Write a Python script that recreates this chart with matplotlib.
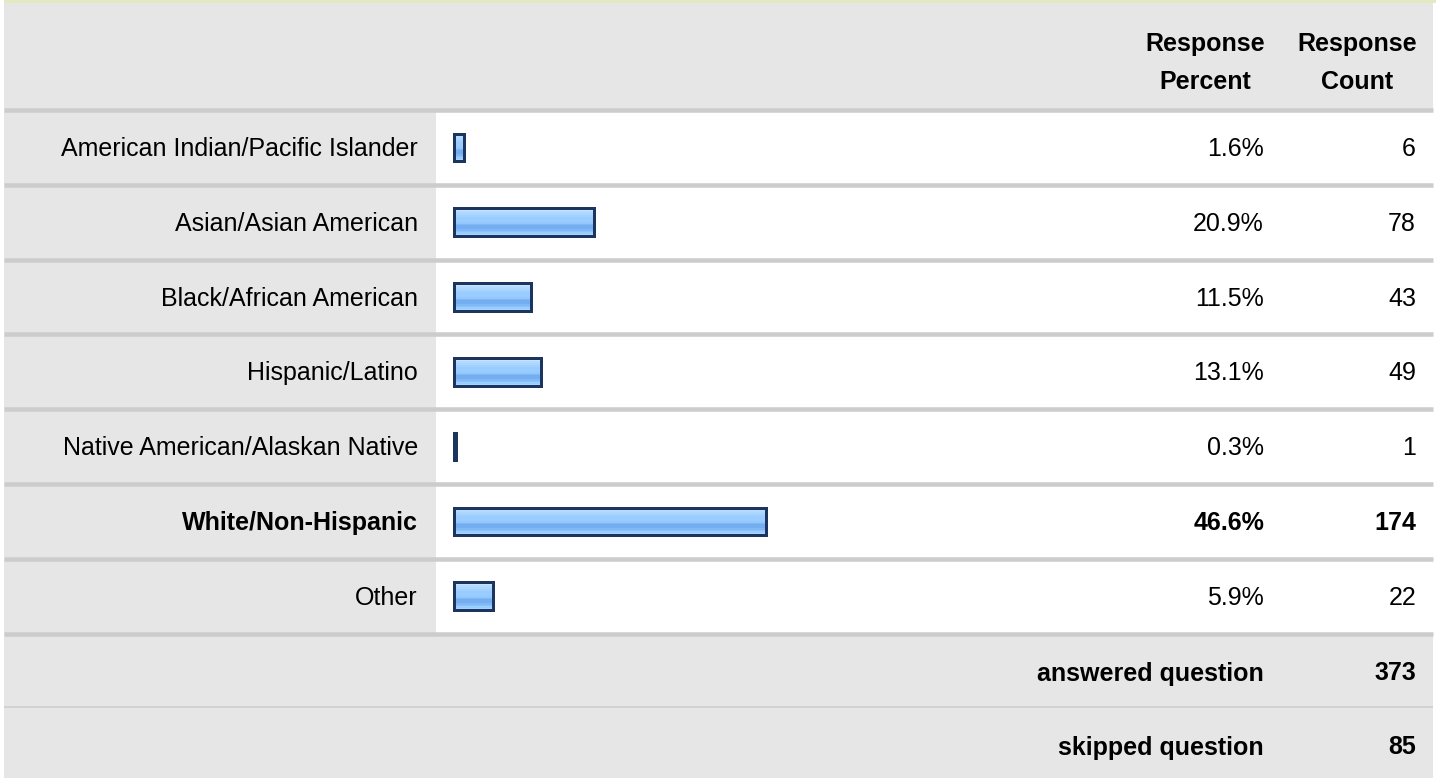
import matplotlib
matplotlib.use("Agg")
import matplotlib.pyplot as plt
import numpy as np
from matplotlib.patches import Rectangle
from matplotlib.colors import to_rgb

# ---- data ----
categories = [
    "American Indian/Pacific Islander",
    "Asian/Asian American",
    "Black/African American",
    "Hispanic/Latino",
    "Native American/Alaskan Native",
    "White/Non-Hispanic",
    "Other",
]
percents = [1.6, 20.9, 11.5, 13.1, 0.3, 46.6, 5.9]
counts = [6, 78, 43, 49, 1, 174, 22]
bold_rows = ["White/Non-Hispanic"]
header_percent = ["Response", "Percent"]
header_count = ["Response", "Count"]
footer_labels = ["answered question", "skipped question"]
footer_values = [373, 85]

# ---- layout / style ----
W, H = 1440, 778
plt.rcParams["font.family"] = ["Liberation Sans", "DejaVu Sans"]
FS = 18
GRAY = "#e6e6e6"
SEP = "#cccccc"
NAVY = "#1c355e"

fig = plt.figure(figsize=(W / 100, H / 100), dpi=100)
fig.patch.set_facecolor("white")
bg = fig.add_axes([0, 0, 1, 1])
bg.set_xlim(0, W)
bg.set_ylim(H, 0)
bg.axis("off")

L, R = 4, 1433
label_col = 436
top_header = 3
rows_top = 110
pitch = 74.8
n = len(categories)
rows_bottom = rows_top + pitch * n
foot_sep = 707

px_to_pt = 72 / 100

# top accent line
bg.add_patch(Rectangle((L, 0), R - L + 3, top_header, color="#e2eac2", lw=0))
# header
bg.add_patch(Rectangle((L, top_header), R - L, rows_top - top_header, color=GRAY, lw=0))
# label column
bg.add_patch(Rectangle((L, rows_top), label_col - L, rows_bottom - rows_top, color=GRAY, lw=0))
# footer
bg.add_patch(Rectangle((L, rows_bottom), R - L, H - rows_bottom, color=GRAY, lw=0))

# separators
for k in range(n + 1):
    y = rows_top + pitch * k
    bg.plot([L, R], [y, y], color=SEP, lw=4.5 * px_to_pt, solid_capstyle="butt", zorder=1)
bg.plot([L, R], [foot_sep, foot_sep], color="#d2d2d2", lw=2 * px_to_pt, solid_capstyle="butt", zorder=1)

x_label = 418
x_pct = 1264
x_cnt = 1416
base_off = 8.5

# header texts
for j, t in enumerate(header_percent):
    bg.text(1205, 42 + 38 * j + base_off, t, ha="center", va="baseline", fontsize=FS, fontweight="bold")
for j, t in enumerate(header_count):
    bg.text(1357, 42 + 38 * j + base_off, t, ha="center", va="baseline", fontsize=FS, fontweight="bold")

# rows
for i, (cat, p, c) in enumerate(zip(categories, percents, counts)):
    yc = rows_top + pitch * (i + 0.5) + base_off
    fw = "bold" if cat in bold_rows else "normal"
    bg.text(x_label, yc, cat, ha="right", va="baseline", fontsize=FS, fontweight=fw)
    bg.text(x_pct, yc, f"{p:.1f}%", ha="right", va="baseline", fontsize=FS, fontweight=fw)
    bg.text(x_cnt, yc, f"{c}", ha="right", va="baseline", fontsize=FS, fontweight=fw)

# footer
foot_centers = [672, 746]
for t, v, yc in zip(footer_labels, footer_values, foot_centers):
    bg.text(x_pct, yc + base_off, t, ha="right", va="baseline", fontsize=FS, fontweight="bold")
    bg.text(x_cnt, yc + base_off, f"{v}", ha="right", va="baseline", fontsize=FS, fontweight="bold")

# ---- bar axes ----
bx0 = 452
scale = 6.7  # px per percent
ax = fig.add_axes([bx0 / W, 1 - rows_bottom / H, scale * 100 / W, (rows_bottom - rows_top) / H])
ax.set_facecolor("none")
ax.axis("off")
xlim = (-0.23, 99.77)
ylim = (n - 0.5, -0.5)
bar_h = 27.5 / pitch
bars = ax.barh(range(n), percents, height=bar_h, facecolor="none",
               edgecolor=NAVY, linewidth=3 * px_to_pt, zorder=3)

stripes = ["#c6e2ff", "#c6e2ff", "#b4daff", "#add6ff", "#a3d1ff", "#99ccff", "#99ccff",
           "#99ccff", "#94c8fd", "#7fb8f4", "#74aef0", "#74aef0", "#7fb8f4", "#8cc2f9",
           "#99ccff", "#a6d3ff"]
grad = np.array([to_rgb(s) for s in stripes])[:, None, :]
for b in bars:
    x, y, w, h = b.get_x(), b.get_y(), b.get_width(), b.get_height()
    im = ax.imshow(grad, extent=(x, x + w, y + h, y), aspect="auto",
                   interpolation="nearest", zorder=2)
    im.set_clip_path(b)

ax.set_xlim(*xlim)
ax.set_ylim(*ylim)

fig.savefig("out.png", dpi=100, facecolor="white")
